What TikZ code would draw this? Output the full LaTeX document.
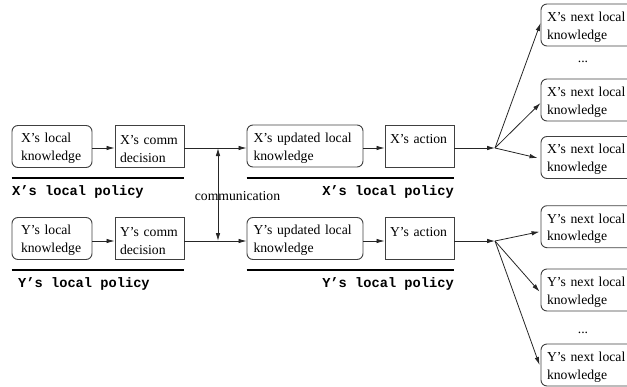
\documentclass[tikz,border=0pt]{standalone}
\usepackage{fontspec}
\setmainfont{Liberation Serif}
\setmonofont{Liberation Mono}
\usetikzlibrary{arrows.meta}
% strut that lowers the first text line inside a box
\newcommand\firstline{\rule{0pt}{13.5pt}}
\begin{document}
\begin{tikzpicture}[x=1pt,y=-1pt,
  every node/.style={font=\fontsize{13.7}{17.7}\selectfont},
  box/.style={draw=black!75, line width=0.9pt, minimum height=42pt,
    inner ysep=0pt, align=left},
  rbox/.style={box, rounded corners=6pt},
  arr/.style={draw=black!85, line width=0.8pt, -{Latex[length=8pt,width=4.5pt]}},
  darr/.style={draw=black!85, line width=0.8pt,
    {Latex[length=8pt,width=4.5pt]}-{Latex[length=8pt,width=4.5pt]}},
  policy/.style={font=\fontsize{13.7}{16}\selectfont\ttfamily\bfseries, inner sep=0pt},
  rulebar/.style={line width=2.4pt, line cap=butt}]

\useasboundingbox (0,0) rectangle (627,386);
\clip (0,0) rectangle (627,386);

% levels of the horizontal connectors and the policy rules
\coordinate (xline) at (0,148);
\coordinate (yline) at (0,241);
\coordinate (xrule) at (0,178);
\coordinate (yrule) at (0,270);
\coordinate (cv) at (218,0);

% X row
\node[rbox, inner xsep=9pt, text width=62pt] (xlk) at (52,146.5) {\firstline X’s local\\knowledge};
\node[box, inner xsep=5pt, text width=59pt] (xcd) at (149.5,146.5) {\firstline X’s comm\\decision};
\node[rbox, inner xsep=6.5pt, text width=103pt] (xuk) at (305,146) {\firstline X’s updated local\\knowledge};
\node[box, inner xsep=5pt, text width=59pt] (xac) at (419.5,146) {\firstline X’s action\\\mbox{}};

% Y row
\node[rbox, inner xsep=9pt, text width=62pt] (ylk) at (52,238.5) {\firstline Y’s local\\knowledge};
\node[box, inner xsep=5pt, text width=59pt] (ycd) at (149.5,238.5) {\firstline Y’s comm\\decision};
\node[rbox, inner xsep=6.5pt, text width=103pt] (yuk) at (305,238.5) {\firstline Y’s updated local\\knowledge};
\node[box, inner xsep=5pt, text width=59pt] (yac) at (419.5,238.5) {\firstline Y’s action\\\mbox{}};

% next local knowledge boxes
\node[rbox, inner xsep=6pt, text width=88pt] (xn1) at (591,25) {\firstline X’s next local\\knowledge};
\node[rbox, inner xsep=6pt, text width=88pt] (xn2) at (591,100) {\firstline X’s next local\\knowledge};
\node[rbox, inner xsep=6pt, text width=88pt] (xn3) at (591,157.5) {\firstline X’s next local\\knowledge};
\node[anchor=base] (xdots) at (583,62) {...};

\node[rbox, inner xsep=6pt, text width=88pt] (yn1) at (591,226.7) {\firstline Y’s next local\\knowledge};
\node[rbox, inner xsep=6pt, text width=88pt] (yn2) at (591,290) {\firstline Y’s next local\\knowledge};
\node[rbox, inner xsep=6pt, text width=88pt] (yn3) at (591,365) {\firstline Y’s next local\\knowledge};
\node[anchor=base] (ydots) at (583,333) {...};

% policy rules and labels
\draw[rulebar] (xlk.west |- xrule) -- (xcd.east |- xrule);
\draw[rulebar] (xuk.west |- xrule) -- (xac.east |- xrule);
\draw[rulebar] (ylk.west |- yrule) -- (ycd.east |- yrule);
\draw[rulebar] (yuk.west |- yrule) -- (yac.east |- yrule);
\node[policy, anchor=base west] (xpl1) at (12,195) {X’s local policy};
\node[policy, anchor=base east] (xpl2) at (454,195) {X’s local policy};
\node[policy, anchor=base west] (ypl1) at (18,287) {Y’s local policy};
\node[policy, anchor=base east] (ypl2) at (454,287) {Y’s local policy};

% connectors along each row
\draw[arr] (xlk.east |- xline) -- (xcd.west |- xline);
\draw[arr] (xcd.east |- xline) -- (xuk.west |- xline);
\draw[arr] (xuk.east |- xline) -- (xac.west |- xline);
\draw[arr] (ylk.east |- yline) -- (ycd.west |- yline);
\draw[arr] (ycd.east |- yline) -- (yuk.west |- yline);
\draw[arr] (yuk.east |- yline) -- (yac.west |- yline);

% communication between the two agents
\draw[darr] (cv |- xline) -- (cv |- yline);
\node[anchor=base] (comm) at (237.5,200) {communication};

% fan-out to the next local knowledge
\coordinate (xfan) at (495,148);
\coordinate (yfan) at (495,241);
\draw[arr] (xac.east |- xline) -- (xfan);
\draw[arr] (yac.east |- yline) -- (yfan);
\draw[arr] (xfan) -- ([yshift=2pt]xn1.west);
\draw[arr] (xfan) -- ([yshift=-3pt]xn2.west);
\draw[arr] (xfan) -- ([xshift=-3pt,yshift=-0.5pt]xn3.west);
\draw[arr] (yfan) -- ([xshift=-1pt,yshift=-5pt]yn1.west);
\draw[arr] (yfan) -- ([xshift=-1pt,yshift=-1.7pt]yn2.west);
\draw[arr] (yfan) -- ([xshift=-1pt]yn3.west);
\end{tikzpicture}
\end{document}
